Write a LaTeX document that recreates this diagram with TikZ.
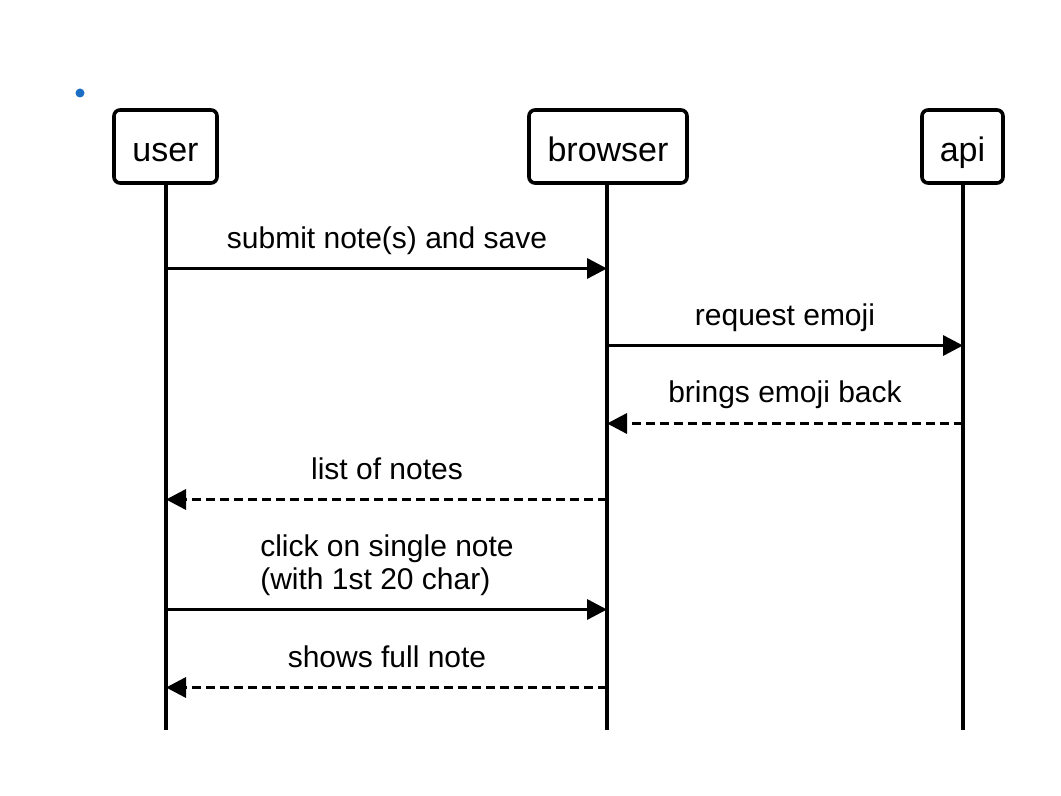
\documentclass[tikz,border=0pt]{standalone}
\usepackage{fontspec}
\setmainfont{Liberation Sans}
\usetikzlibrary{arrows.meta,calc}
\definecolor{bulletblue}{HTML}{1A6FC4}
\tikzset{
  actor/.style={draw, line width=1.8pt, rounded corners=3pt, minimum height=36.5pt, inner sep=0pt, text height=17pt, text depth=1.5pt, font=\fontsize{17}{20}\selectfont},
  lifeline/.style={line width=1.8pt},
  msg/.style={line width=1.7pt, -{Triangle[length=10pt,width=10pt]}},
  reply/.style={msg, dash pattern=on 4.5pt off 2.5pt},
  lbl/.style={font=\fontsize{15}{16.5}\selectfont, anchor=base, inner sep=0pt}
}
\begin{document}
\begin{tikzpicture}[x=0.5pt,y=-0.5pt]
\useasboundingbox (0,0) rectangle (1061,796);
\fill[bulletblue] (80,93) circle (2.25pt);
\node[actor, minimum width=51.5pt] (user) at (165.5,146.5) {user};
\node[actor, minimum width=79pt] (browser) at (608,146.5) {browser};
\node[actor, minimum width=40.5pt] (api) at (962.5,146.5) {api};
\coordinate (uend) at (166,730);
\coordinate (bend) at (607,730);
\coordinate (aend) at (963,730);
\draw[lifeline] (user.south -| uend) -- (uend);
\draw[lifeline] (browser.south -| bend) -- (bend);
\draw[lifeline] (api.south -| aend) -- (aend);
% messages
\coordinate (y1) at (0,268.5);
\coordinate (y2) at (0,345.5);
\coordinate (y3) at (0,423.5);
\coordinate (y4) at (0,499.5);
\coordinate (y5) at (0,609.5);
\coordinate (y6) at (0,687.5);
\draw[msg] (uend |- y1) -- (bend |- y1);
\draw[msg] (bend |- y2) -- (aend |- y2);
\draw[reply] (aend |- y3) -- (bend |- y3);
\draw[reply] (bend |- y4) -- (uend |- y4);
\draw[msg] (uend |- y5) -- (bend |- y5);
\draw[reply] (bend |- y6) -- (uend |- y6);
% labels
\node[lbl] (l1) at (387,249) {submit note(s) and save};
\node[lbl] (l2) at (785,326) {request emoji};
\node[lbl] (l3) at (785,403) {brings emoji back};
\node[lbl] (l4) at (387,480) {list of notes};
\node[lbl, align=left] (l5) at (387,589) {click on single note\\(with 1st 20 char)};
\node[lbl] (l6) at (387,668) {shows full note};
\end{tikzpicture}
\end{document}
